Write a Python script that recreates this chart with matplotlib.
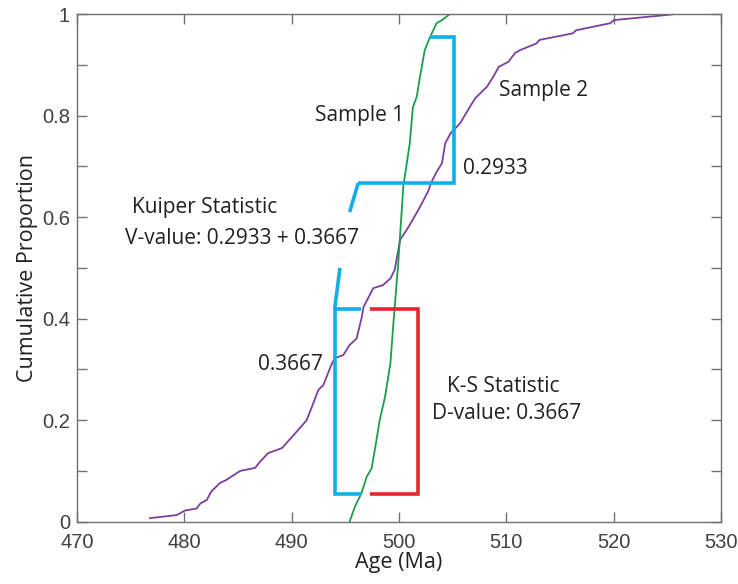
#!/usr/bin/env python3

import matplotlib
matplotlib.use("Agg")
import matplotlib.pyplot as plt


# Sample 1 cumulative distribution (age in Ma, cumulative proportion)
sample1_age = [495.4, 495.9, 496.5, 497.0, 497.45, 497.8, 498.2, 498.7,
               499.2, 499.5, 499.8, 499.9, 500.4, 501.0, 501.3, 501.65,
               501.96, 502.4, 502.9, 503.5, 504.0, 504.75]
sample1_prop = [0.0, 0.03, 0.056, 0.089, 0.105, 0.148, 0.20, 0.246,
                0.312, 0.397, 0.476, 0.50, 0.66, 0.745, 0.817, 0.837,
                0.877, 0.929, 0.955, 0.982, 0.988, 1.0]

# Sample 2 cumulative distribution
sample2_age = [476.8, 479.3, 480.06, 481.15, 481.5, 482.1, 482.5, 483.3,
               483.9, 485.2, 486.6, 487.05, 487.8, 489.1, 490.2, 491.4,
               491.9, 492.5, 492.95, 493.7, 494.0, 494.8, 495.4, 496.05,
               496.5, 496.7, 497.6, 498.5, 499.2, 499.6, 500.1, 500.9,
               501.8, 502.7, 503.05, 503.5, 504.0, 504.3, 504.8, 505.7,
               506.6, 507.1, 508.2, 508.8, 509.3, 510.2, 510.8, 511.3,
               512.8, 513.1, 516.2, 516.5, 519.7, 520.0, 524.9, 525.7]
sample2_prop = [0.007, 0.013, 0.022, 0.026, 0.036, 0.043, 0.059, 0.076,
                0.082, 0.10, 0.106, 0.118, 0.135, 0.145, 0.171, 0.20,
                0.227, 0.26, 0.269, 0.309, 0.322, 0.328, 0.348, 0.361,
                0.40, 0.423, 0.46, 0.466, 0.479, 0.496, 0.555, 0.581,
                0.614, 0.65, 0.67, 0.689, 0.706, 0.745, 0.765, 0.785,
                0.817, 0.834, 0.857, 0.877, 0.896, 0.906, 0.923, 0.929,
                0.942, 0.949, 0.962, 0.968, 0.982, 0.988, 0.998, 1.0]

# Kuiper brackets (blue): lower gap and upper gap
kuiper_low_x = [496.5, 494.0, 494.0, 496.5]
kuiper_low_y = [0.054, 0.054, 0.418, 0.418]
kuiper_up_x = [502.9, 505.1, 505.1, 496.2]
kuiper_up_y = [0.955, 0.955, 0.667, 0.667]
kuiper_link1_x = [494.0, 494.5]
kuiper_link1_y = [0.418, 0.50]
kuiper_link2_x = [495.4, 496.2]
kuiper_link2_y = [0.61, 0.667]

# K-S bracket (red)
ks_x = [497.3, 501.8, 501.8, 497.3]
ks_y = [0.054, 0.054, 0.418, 0.418]

BLUE = "#12aee6"
RED = "#e2262b"
GREEN = "#1b9e4b"
PURPLE = "#7b3f9e"
TEXT = "#231f20"
LABEL_FONT = "Open Sans"


def main():
    fig = plt.figure(figsize=(7.38, 5.84), dpi=100)
    ax = fig.add_axes([0.1043, 0.1067, 0.8727, 0.8693])

    ax.plot(sample2_age, sample2_prop, color=PURPLE, linewidth=1.3)
    ax.plot(sample1_age, sample1_prop, color=GREEN, linewidth=1.3)

    for xs, ys in [(kuiper_low_x, kuiper_low_y), (kuiper_up_x, kuiper_up_y),
                   (kuiper_link1_x, kuiper_link1_y),
                   (kuiper_link2_x, kuiper_link2_y)]:
        ax.plot(xs, ys, color=BLUE, linewidth=2.6, solid_capstyle="butt",
                solid_joinstyle="miter")
    ax.plot(ks_x, ks_y, color=RED, linewidth=2.6, solid_capstyle="butt",
            solid_joinstyle="miter")

    text_kw = dict(family=LABEL_FONT, fontsize=15, color=TEXT,
                   ha="center", va="center")
    ax.text(496.37, 0.800, "Sample 1", **text_kw)
    ax.text(513.5, 0.850, "Sample 2", **text_kw)
    ax.text(508.95, 0.695, "0.2933", **text_kw)
    ax.text(481.9, 0.619, "Kuiper Statistic", **text_kw)
    ax.text(485.4, 0.558, "V-value: 0.2933 + 0.3667", **text_kw)
    ax.text(489.85, 0.310, "0.3667", **text_kw)
    ax.text(509.7, 0.267, "K-S Statistic", **text_kw)
    ax.text(510.0, 0.214, "D-value: 0.3667", **text_kw)

    ax.set_xlim(470, 530)
    ax.set_ylim(0, 1)
    ax.set_xticks(range(470, 531, 10))
    ax.set_yticks([0, 0.2, 0.4, 0.6, 0.8, 1])
    ax.set_yticklabels(["0", "0.2", "0.4", "0.6", "0.8", "1"])
    ax.set_yticks([0.1, 0.3, 0.5, 0.7, 0.9], minor=True)
    ax.tick_params(which="both", direction="in", top=True, right=True,
                   length=7, width=1, color="#707070", labelcolor="#404040",
                   labelsize=14.5)
    ax.tick_params(axis="x", pad=8)
    ax.tick_params(axis="y", pad=5)
    for label in ax.get_xticklabels() + ax.get_yticklabels():
        label.set_family("Liberation Sans")
    for spine in ax.spines.values():
        spine.set_color("#707070")
        spine.set_linewidth(1)

    ax.set_xlabel("Age (Ma)", family=LABEL_FONT, fontsize=15.5, color=TEXT,
                  labelpad=0)
    ax.set_ylabel("Cumulative Proportion", family=LABEL_FONT,
                  fontsize=15.5, color=TEXT, labelpad=3)

    fig.savefig("out.png", dpi=100)
    plt.close(fig)


if __name__ == "__main__":
    main()
